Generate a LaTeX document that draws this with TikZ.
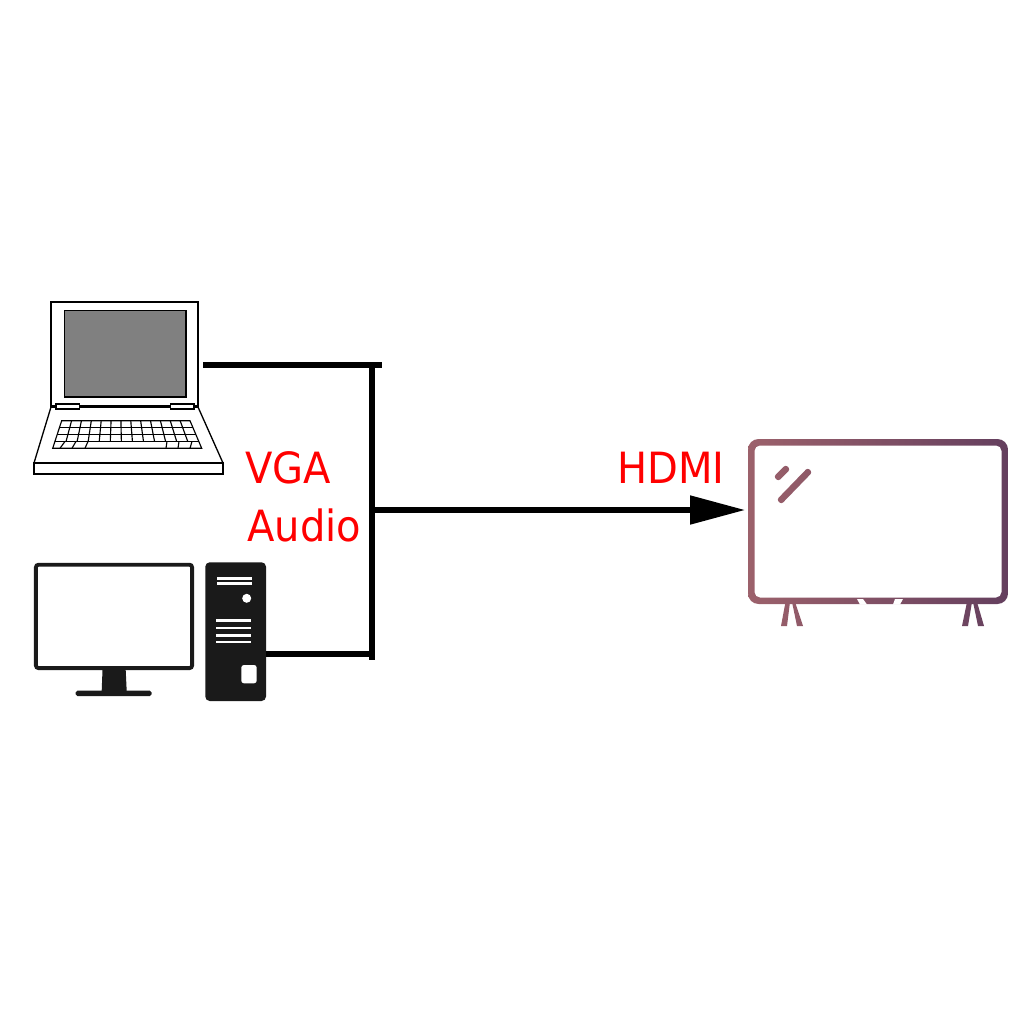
\documentclass[tikz,border=0pt]{standalone}
\usepackage{fontspec}
\setmainfont{DejaVu Sans}[FakeStretch=0.93]
\usepackage{xcolor}
\usetikzlibrary{arrows.meta, shapes.geometric}

\definecolor{tvleft}{HTML}{9C616B}
\definecolor{tvright}{HTML}{643F5E}
\definecolor{iconblack}{HTML}{1A1A1A}

\begin{document}
\begin{tikzpicture}[
  x=0.02cm, y=-0.02cm,
  thinline/.style={draw=black, line width=0.75pt, fill=white},
  keyline/.style={draw=black, line width=0.65pt},
  wire/.style={draw=black, line width=2.9pt},
  arr/.style={wire, -{Triangle[length=1.1cm, width=0.56cm]}},
  lbl/.style={anchor=base west, inner sep=0pt, text=red, font=\fontsize{24.5}{29}\selectfont},
  slot/.style={fill=white, draw=none}
]
  \useasboundingbox (0,0) rectangle (1024,1024);

  % Laptop
  \draw[thinline] (51,302) rectangle (198,407);
  \draw[draw=black, line width=1pt, fill=gray] (64.5,310.5) rectangle (186,397);
  \draw[thinline] (51,407) -- (34,463) -- (223,463) -- (198,407) -- cycle;
  \draw[thinline] (34,463) rectangle (223,474);
  \draw[draw=black, line width=1.4pt] (51,406.5) -- (198,406.5);
  \draw[thinline] (56,404) rectangle (79.5,409);
  \draw[thinline] (170.5,404) rectangle (194,409);

  % Keyboard
  \draw[keyline] (61.7,420.7) -- (190,420.7) -- (201.7,448.3) -- (52.7,448.3) -- cycle;
  \foreach \r in {1,2,3} {
    \draw[keyline] ({61.7-9*\r/4},{420.7+27.6*\r/4}) -- ({190+11.7*\r/4},{420.7+27.6*\r/4});
  }
  \foreach \k in {1,...,12} {
    \draw[keyline] ({61.7+\k*128.3/13},420.7) -- ({55+\k*143.8/13},441.4);
  }
  \foreach \a/\b in {65/60,76/72,88/85,167/166,179/178,192/190} {
    \draw[keyline] (\a,441.4) -- (\b,448.3);
  }

  % Monitor
  \draw[draw=iconblack, line width=2.2pt, fill=white, rounded corners=1.5pt] (35.9,564.7) rectangle (192.1,668.1);
  \fill[iconblack] (102.5,670) -- (125.7,670) -- (126.7,691) -- (101.7,691) -- cycle;
  \fill[iconblack, rounded corners=1pt] (75.7,690.7) rectangle (151.7,696);

  % Tower
  \fill[iconblack, rounded corners=2.5pt] (205.3,562.3) rectangle (266,701);
  \fill[slot] (216.7,576.8) rectangle (251.7,579.5);
  \fill[slot] (216.7,582.3) rectangle (251.7,585);
  \fill[slot] (246.7,598.3) circle (4.5);
  \foreach \y in {619.3,626.5,633.8,640.5} {
    \fill[slot] (216,\y) rectangle (251,\y+2.7);
  }
  \fill[slot, rounded corners=1.5pt] (241.3,665) rectangle (256.7,683.3);

  % TV, one shading through all its parts
  \begin{scope}[even odd rule]
    \clip[rounded corners=6pt] (748,439) rectangle (1008,604)
      [rounded corners=3pt] (754.5,445.5) rectangle (1001.5,597.5);
    \shade[left color=tvleft, right color=tvright] (748,430) rectangle (1008,630);
  \end{scope}
  \begin{scope}
    \clip (785.5,602) -- (790,602) -- (787,626) -- (781,626) -- cycle
          (792,602) -- (795,602) -- (803,626) -- (797,626) -- cycle
          (967,602) -- (972,602) -- (968,626) -- (962,626) -- cycle
          (973,602) -- (977,602) -- (984,626) -- (978,626) -- cycle
          [rounded corners=1.5pt]
          (773.7,476.7) -- (785.7,464.7) -- (790.3,469.3) -- (778.3,481.3) -- cycle
          (776.7,499.7) -- (807.7,467.7) -- (812.3,472.3) -- (781.3,504.3) -- cycle;
    \shade[left color=tvleft, right color=tvright] (748,430) rectangle (1008,630);
  \end{scope}
  \fill[white] (857,599) -- (863,599) -- (867,604.5) -- (860,604.5) -- cycle;
  \fill[white] (903,599) -- (895,599) -- (893,604.5) -- (900,604.5) -- cycle;

  % Labels
  \node[lbl] (vga) at (245,483) {VGA};
  \node[lbl] (audio) at (247,541) {Audio};
  \node[lbl] (hdmi) at (617,483) {HDMI};

  % wires
  \coordinate (laptopport) at (203,365);
  \coordinate (bustopend) at (382,365);
  \coordinate (bustop) at (372,362.5);
  \coordinate (busbottom) at (372,660);
  \coordinate (towerport) at (266,654);
  \coordinate (busjoin) at (372,654);
  \coordinate (busout) at (372,510);
  \coordinate (tvport) at (745,510);
  \draw[wire] (laptopport) -- (bustopend);
  \draw[wire] (bustop) -- (busbottom);
  \draw[wire] (towerport) -- (busjoin);
  \draw[arr] (busout) -- (tvport);
\end{tikzpicture}
\end{document}
